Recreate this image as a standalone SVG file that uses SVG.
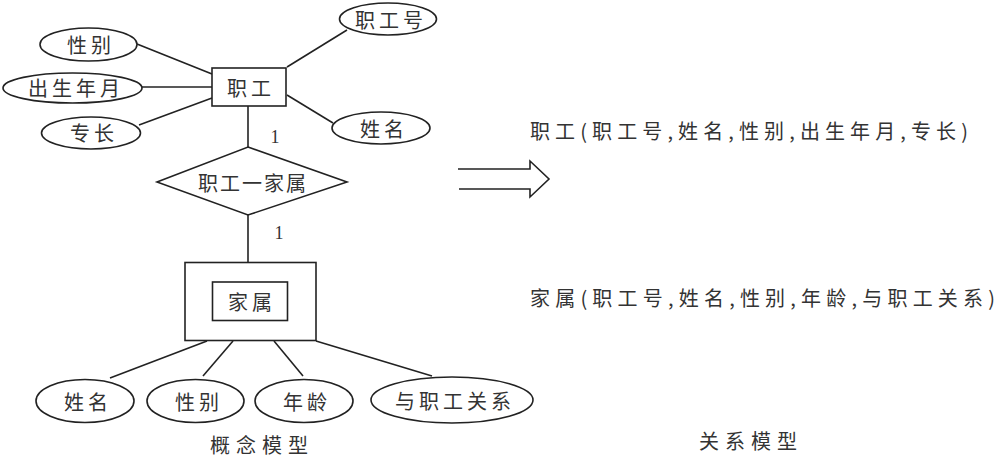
<svg xmlns="http://www.w3.org/2000/svg" width="1000" height="459" viewBox="0 0 1000 459">
<style>
.s{fill:none;stroke:#222;stroke-width:1.6}
.n{fill:#fff;stroke:#222;stroke-width:1.6}
text{font-family:"Noto Sans CJK SC","Noto Sans",sans-serif;font-size:20px;fill:#333;text-anchor:middle;dominant-baseline:central;letter-spacing:4px}
.l{text-anchor:start;letter-spacing:0}
.c{font-family:"Liberation Serif",serif;font-size:18px;letter-spacing:0}
</style>
<rect width="1000" height="459" fill="#fff"/>
<g id="connectors">
<line class="s" x1="137" y1="44" x2="212" y2="74"/>
<line class="s" x1="142" y1="87" x2="212" y2="87"/>
<line class="s" x1="139" y1="125" x2="212" y2="98"/>
<line class="s" x1="347" y1="30" x2="287" y2="67"/>
<line class="s" x1="287" y1="95" x2="333" y2="123"/>
<line class="s" x1="248" y1="106" x2="248" y2="147"/>
<line class="s" x1="248" y1="215" x2="248" y2="262"/>
<line class="s" x1="110" y1="378" x2="207" y2="341"/>
<line class="s" x1="203" y1="376" x2="233" y2="341"/>
<line class="s" x1="274" y1="341" x2="303" y2="376"/>
<line class="s" x1="316" y1="341" x2="432" y2="376"/>
<text class="c" x="275" y="137">1</text>
<text class="c" x="279" y="233">1</text>
</g>
<g id="zhigong">
<rect class="n" x="212" y="68" width="74" height="38"/>
<text x="251" y="87">职工</text>
</g>
<g id="attr-xingbie">
<ellipse class="n" cx="88.5" cy="44.5" rx="48.5" ry="16.5"/>
<text x="91" y="44">性别</text>
</g>
<g id="attr-chusheng">
<ellipse class="n" cx="72.5" cy="88" rx="69.5" ry="15"/>
<text x="76" y="87">出生年月</text>
</g>
<g id="attr-zhuanchang">
<ellipse class="n" cx="91" cy="133" rx="49.5" ry="16"/>
<text x="94" y="132">专长</text>
</g>
<g id="attr-zhigonghao">
<ellipse class="n" cx="388" cy="19" rx="48.5" ry="16"/>
<text x="391" y="19">职工号</text>
</g>
<g id="attr-xingming">
<ellipse class="n" cx="381" cy="128" rx="49" ry="16"/>
<text x="384" y="128">姓名</text>
</g>
<g id="rel">
<polygon class="n" points="248,147 347,182 248,215 157,182"/>
<text x="253" y="182" style="letter-spacing:2px">职工一家属</text>
</g>
<g id="jiashu">
<rect class="n" x="185" y="262.5" width="131" height="78"/>
<rect class="n" x="212.5" y="282" width="75" height="38.5"/>
<text x="252" y="301">家属</text>
</g>
<g id="j-xingming">
<ellipse class="n" cx="85" cy="401" rx="49" ry="21.5"/>
<text x="88" y="401">姓名</text>
</g>
<g id="j-xingbie">
<ellipse class="n" cx="195.5" cy="401" rx="48.5" ry="21.5"/>
<text x="199" y="401">性别</text>
</g>
<g id="j-nianling">
<ellipse class="n" cx="304" cy="401" rx="49" ry="21.5"/>
<text x="307" y="401">年龄</text>
</g>
<g id="j-guanxi">
<ellipse class="n" cx="452" cy="400" rx="81" ry="23"/>
<text x="455" y="400">与职工关系</text>
</g>
<g id="arrow">
<path class="s" fill="none" d="M458,169 H530 V161 L549,179 L530,197 V189 H459"/>
</g>
<g id="labels">
<text x="262" y="444" style="letter-spacing:6px">概念模型</text>
<text x="751" y="440" style="letter-spacing:6px">关系模型</text>
<text class="l" x="530" y="130" textLength="438" lengthAdjust="spacing">职工(职工号,姓名,性别,出生年月,专长)</text>
<text class="l" x="530" y="297" textLength="465" lengthAdjust="spacing">家属(职工号,姓名,性别,年龄,与职工关系)</text>
</g>
</svg>
